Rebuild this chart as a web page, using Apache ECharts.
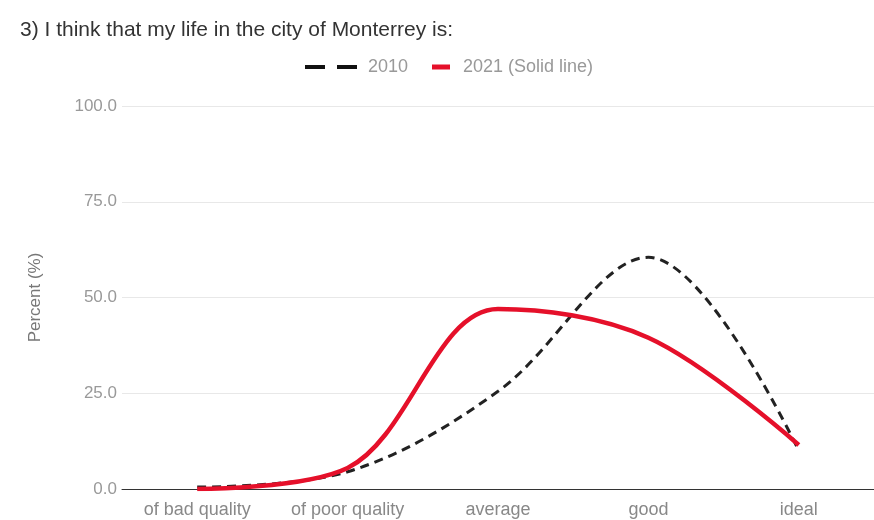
<!DOCTYPE html>
<html>
<head>
<meta charset="utf-8">
<script src="https://cdn.jsdelivr.net/npm/echarts@6/dist/echarts.min.js"></script>
<style>
html,body{margin:0;padding:0;background:#fff;}
#chart{width:874px;height:520px;}
</style>
</head>
<body>
<div id="chart"></div>
<script>
const categories = ['of bad quality', 'of poor quality', 'average', 'good', 'ideal'];
const series2010 = [0.5, 4.5, 25.5, 60.5, 10];
const series2021 = [0, 5.5, 47, 39.5, 11.5];
const yTicks = [0, 25, 50, 75, 100];

const FONT = 'Liberation Sans, Arial, sans-serif';
const chart = echarts.init(document.getElementById('chart'));
chart.setOption({
  backgroundColor: '#ffffff',
  animation: false,
  title: {
    text: '3) I think that my life in the city of Monterrey is:',
    left: 20, top: 20, padding: 0,
    textStyle: {fontFamily: FONT, fontSize: 21, fontWeight: 'normal', color: '#333'}
  },
  legend: [
    {
      left: 305, top: 58, padding: 0,
      itemWidth: 52, itemHeight: 4,
      icon: 'path://M0,0h20v4h-20z M32,0h20v4h-20z',
      textStyle: {fontFamily: FONT, fontSize: 18, color: '#999', padding: [0, 0, 0, 6]},
      data: ['2010']
    },
    {
      left: 432, top: 58, padding: 0,
      itemWidth: 18, itemHeight: 5,
      icon: 'rect',
      textStyle: {fontFamily: FONT, fontSize: 18, color: '#999', padding: [0, 0, 0, 8]},
      data: ['2021 (Solid line)']
    }
  ],
  grid: {left: 122, top: 106, width: 756, height: 383, containLabel: false},
  xAxis: {
    type: 'category',
    data: categories,
    boundaryGap: true,
    axisLine: {lineStyle: {color: '#333', width: 1}},
    axisTick: {show: false},
    axisLabel: {fontFamily: FONT, fontSize: 18, color: '#888', margin: 12}
  },
  yAxis: {
    type: 'value',
    min: yTicks[0], max: yTicks[yTicks.length - 1], interval: 25,
    name: 'Percent (%)',
    nameLocation: 'middle',
    nameGap: 78,
    nameTextStyle: {fontFamily: FONT, fontSize: 17, color: '#777'},
    axisLine: {show: false},
    axisTick: {show: false},
    axisLabel: {fontFamily: FONT, fontSize: 17, color: '#999', margin: 5,
      formatter: v => v.toFixed(1)},
    splitLine: {lineStyle: {color: '#e8e8e8', width: 1}}
  },
  series: [
    {
      name: '2010', type: 'line', data: series2010, smooth: 0.35,
      symbol: 'none', z: 2,
      lineStyle: {color: '#222', width: 3, type: [9, 6]},
      itemStyle: {color: '#111'}
    },
    {
      name: '2021 (Solid line)', type: 'line', data: series2021, smooth: 0.35,
      symbol: 'none', z: 3,
      lineStyle: {color: '#e5102a', width: 4.5},
      itemStyle: {color: '#e5102a'}
    }
  ]
});
</script>
</body>
</html>
